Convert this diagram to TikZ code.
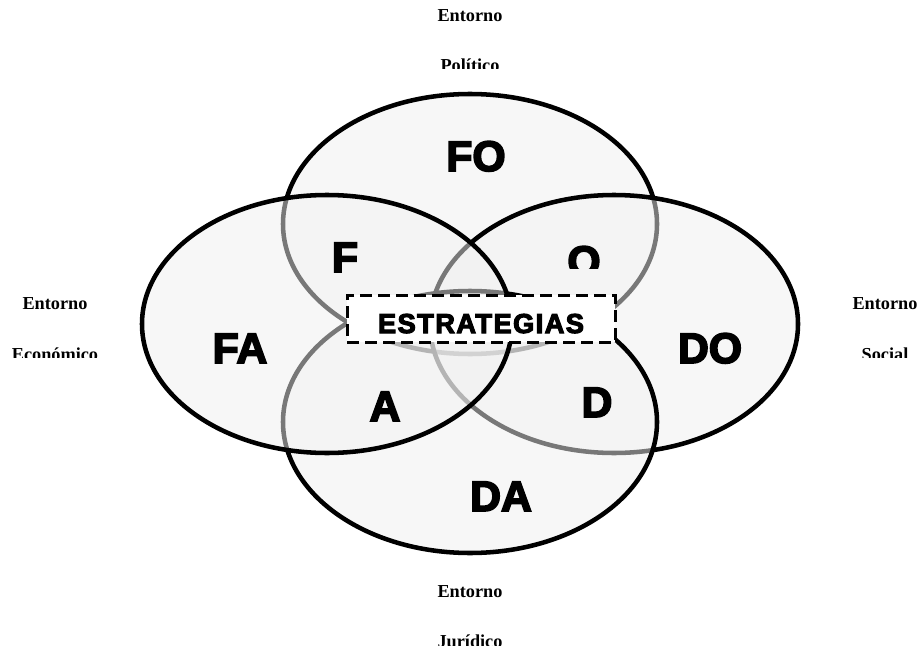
\documentclass[tikz,border=0pt]{standalone}
\usepackage{fontspec}
\newfontfamily\heavyfont[FakeBold=4]{Liberation Sans Bold}
\newfontfamily\seriffont{Liberation Serif}
\begin{document}
\begin{tikzpicture}[x=0.75pt,y=-0.75pt,
  setshape/.style={line width=3.4pt, draw=black, fill=black!6, fill opacity=0.5},
  big/.style={font=\heavyfont\fontsize{32}{38}\selectfont, anchor=base, inner sep=0pt},
  lbl/.style={font=\seriffont\bfseries\fontsize{13.7}{16}\selectfont, anchor=base, inner sep=0pt},
  stratbox/.style={draw=black, fill=white, line width=2.25pt, dash pattern=on 9pt off 4.5pt,
    minimum width=201pt, minimum height=35.25pt, inner sep=0pt},
  strattext/.style={font=\heavyfont\fontsize{20.5}{24}\selectfont\addfontfeature{LetterSpace=5},
    anchor=base, inner sep=0pt}
]
\useasboundingbox (0,0) rectangle (920,649);

% four overlapping sets (drawing order: top, right, bottom, left)
\path[setshape] (470,224) ellipse [x radius=187, y radius=130];
\path[setshape] (614,324) ellipse [x radius=184, y radius=129];
\path[setshape] (470,422) ellipse [x radius=187, y radius=131];
\path[setshape] (327,324) ellipse [x radius=185, y radius=129];

% region letters
\node[big] (fo) at (476,171) {FO};
\node[big] (f) at (345,272) {F};
\begin{scope}
  \clip (540,200) rectangle (630,268);
  \node[big] (o) at (584,276) {O};
\end{scope}
\node[big] (fa) at (240,363) {FA};
\node[big] (do) at (710,363) {DO};
\node[big] (a) at (385,421) {A};
\node[big] (d) at (597,417) {D};
\node[big] (da) at (501,511) {DA};

% central box
\node[stratbox] (box) at (481,318.5) {};
\node[strattext] (strat) at (481,333) {ESTRATEGIAS};

% surrounding labels
\node[lbl] (topE) at (470,22) {Entorno};
\begin{scope}
  \clip (400,40) rectangle (540,69);
  \node[lbl] (topP) at (470,72) {Político};
\end{scope}

\node[lbl] (leftE) at (55,309) {Entorno};
\begin{scope}
  \clip (0,330) rectangle (130,357);
  \node[lbl] (leftP) at (55,360) {Económico};
\end{scope}

\node[lbl] (rightE) at (885,309) {Entorno};
\begin{scope}
  \clip (820,330) rectangle (920,357);
  \node[lbl] (rightP) at (885,360) {Social};
\end{scope}

\node[lbl] (botE) at (470,597) {Entorno};
\begin{scope}
  \clip (400,615) rectangle (540,645);
  \node[lbl] (botP) at (470,647) {Jurídico};
\end{scope}
\end{tikzpicture}
\end{document}
